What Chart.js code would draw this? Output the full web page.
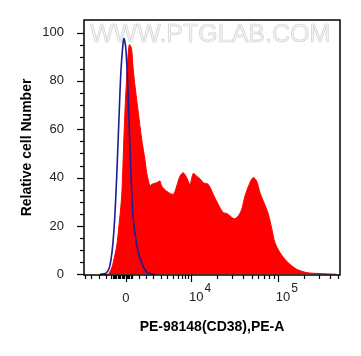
<!DOCTYPE html>
<html>
<head>
<meta charset="utf-8">
<script src="https://cdn.jsdelivr.net/npm/chart.js@4"></script>
<style>
  html, body { margin: 0; padding: 0; background: #fff; }
  #wrap { width: 361px; height: 356px; }
</style>
</head>
<body>
<div id="wrap"><canvas id="histChart" width="361" height="356"></canvas></div>
<script>
// x is in display units of the biexponential axis (0 -> 0, 10^4 -> 0.75, 10^5 -> 1.75)
const redX = [-0.300, -0.208, -0.185, -0.161, -0.146, -0.107, -0.081, -0.050, -0.035, -0.020, -0.006,
  0.008, 0.023, 0.038, 0.052, 0.066, 0.081, 0.104, 0.142, 0.181, 0.219, 0.239, 0.277, 0.296, 0.354,
  0.392, 0.412, 0.469, 0.546, 0.585, 0.623, 0.661, 0.700, 0.738, 0.776, 0.815, 0.854, 0.892, 0.949,
  1.007, 1.065, 1.122, 1.161, 1.200, 1.249, 1.295, 1.335, 1.373, 1.430, 1.468, 1.507, 1.546, 1.584,
  1.623, 1.642, 1.681, 1.719, 1.776, 1.834, 1.892, 1.969, 2.084, 2.238, 2.430];
const redY = [0, 0, 1, 3, 5, 11.7, 20, 32, 45, 60, 72,
  81, 90, 95, 94.5, 93, 86, 78, 67, 56, 47.5, 42, 36.5, 37.2, 37.9,
  38.6, 36.5, 34.4, 33.1, 36.5, 40.6, 42, 40, 37.2, 41.7, 40.6, 39.5, 37.9, 37.2,
  33, 28.9, 25.5, 25.2, 24.1, 23, 24.1, 26.9, 32.4, 37.9, 40, 38.6, 33.8, 30.3,
  26.9, 25, 19, 13.1, 9, 6.2, 4.1, 2.1, 0.7, 0.3, 0];

const blueX = [-0.300, -0.231, -0.196, -0.173, -0.150, -0.127, -0.104, -0.081, -0.058, -0.035, -0.023,
  -0.012, 0, 0.023, 0.046, 0.069, 0.084, 0.104, 0.127, 0.150, 0.173, 0.196, 0.219, 0.242, 0.277, 0.334];
const blueY = [0, 0.5, 2.3, 6, 13, 25, 43, 64, 84, 95, 97.5,
  96, 93, 76, 52, 32, 23, 17, 11.5, 8, 5.5, 3.5, 2, 0.8, 0.3, 0];

const yTicks = [0, 20, 40, 60, 80, 100];
const xTickLabels = [
  { value: 0, text: '0' },
  { value: 0.75, base: '10', exp: '4' },
  { value: 1.75, base: '10', exp: '5' }
];
// minor ticks of the transformed axis
const xMinor = [-0.473, -0.400, -0.315, -0.231,
  -0.17, -0.155, -0.14, -0.125, -0.11, -0.095, -0.08, -0.065, -0.05, -0.035, -0.02, -0.005,
  0.01, 0.025, 0.04, 0.055, 0.07,
  0.150, 0.234, 0.315, 0.400, 0.476, 0.546, 0.600, 0.642, 0.680, 0.719];
for (let k = 2; k <= 9; k++) xMinor.push(0.75 + Math.log10(k));
for (let k = 2; k <= 5; k++) xMinor.push(1.75 + Math.log10(k));

const toPts = (xs, ys) => xs.map((x, i) => ({ x: x, y: ys[i] }));

const fontFam = '"Liberation Sans", Arial, sans-serif';

const decor = {
  id: 'decor',
  beforeDatasetsDraw(chart) {
    const { ctx, chartArea } = chart;
    ctx.save();
    ctx.font = '25px ' + fontFam;
    ctx.textBaseline = 'alphabetic';
    ctx.textAlign = 'left';
    ctx.fillStyle = '#f4f4f4';
    ctx.strokeStyle = '#d2d2d2';
    ctx.lineWidth = 0.7;
    ctx.fillText('WWW.PTGLAB.COM', chartArea.left + 6, chartArea.top + 22, 248);
    ctx.strokeText('WWW.PTGLAB.COM', chartArea.left + 6, chartArea.top + 22, 248);
    ctx.restore();
  },
  afterDraw(chart) {
    const { ctx, chartArea } = chart;
    const xs = chart.scales.x, ys = chart.scales.y;
    ctx.save();
    ctx.strokeStyle = '#000';
    ctx.lineWidth = 1.5;
    ctx.strokeRect(chartArea.left, chartArea.top, chartArea.right - chartArea.left, chartArea.bottom - chartArea.top);

    // y ticks
    ctx.lineWidth = 1.2;
    for (let v = 0; v <= 100; v += 5) {
      const py = Math.round(ys.getPixelForValue(v)) + 0.5;
      const len = v % 20 === 0 ? 7 : 4;
      ctx.beginPath();
      ctx.moveTo(chartArea.left - len, py);
      ctx.lineTo(chartArea.left, py);
      ctx.stroke();
    }
    // x ticks
    const by = chartArea.bottom;
    xMinor.forEach(v => {
      const px = Math.round(xs.getPixelForValue(v)) + 0.5;
      ctx.beginPath();
      ctx.moveTo(px, by);
      ctx.lineTo(px, by + 4);
      ctx.stroke();
    });
    xTickLabels.forEach(t => {
      const px = Math.round(xs.getPixelForValue(t.value)) + 0.5;
      ctx.beginPath();
      ctx.moveTo(px, by);
      ctx.lineTo(px, by + 7);
      ctx.stroke();
    });
    // x tick labels
    ctx.fillStyle = '#222';
    ctx.textBaseline = 'middle';
    xTickLabels.forEach(t => {
      const px = xs.getPixelForValue(t.value);
      if (t.text) {
        ctx.font = '13px ' + fontFam;
        ctx.textAlign = 'center';
        ctx.fillText(t.text, px, by + 23);
      } else {
        ctx.font = '13px ' + fontFam;
        ctx.textAlign = 'left';
        const x0 = px - 2;
        ctx.fillText(t.base, x0, by + 22);
        const w = ctx.measureText(t.base).width;
        ctx.font = '12px ' + fontFam;
        ctx.fillText(t.exp, x0 + w + 1, by + 14);
      }
    });
    ctx.restore();
  }
};

const chart = new Chart(document.getElementById('histChart').getContext('2d'), {
  type: 'scatter',
  data: {
    datasets: [{
      label: 'PE-98148(CD38)',
      data: toPts(redX, redY),
      showLine: true,
      fill: 'origin',
      borderColor: '#ff0000',
      backgroundColor: '#ff0000',
      borderWidth: 1,
      pointRadius: 0,
      tension: 0.3,
      order: 2
    }, {
      label: 'Control',
      data: toPts(blueX, blueY),
      showLine: true,
      fill: false,
      borderColor: '#1c1c96',
      borderWidth: 1.6,
      pointRadius: 0,
      tension: 0.35,
      order: 1
    }]
  },
  options: {
    responsive: false,
    animation: false,
    devicePixelRatio: 1,
    layout: { padding: { top: 20, right: 21, left: 0, bottom: 0 } },
    plugins: { legend: { display: false }, tooltip: { enabled: false } },
    scales: {
      x: {
        type: 'linear',
        min: -0.484,
        max: 2.469,
        grid: { display: false },
        border: { display: false },
        ticks: { display: false },
        afterFit: s => { s.height = 81; },
        title: {
          display: true,
          text: 'PE-98148(CD38),PE-A',
          color: '#000',
          font: { family: fontFam, size: 14, weight: 'bold' },
          padding: { top: 0, bottom: 20 }
        }
      },
      y: {
        type: 'linear',
        min: -0.3,
        max: 105.2,
        grid: { display: false },
        border: { display: false },
        afterBuildTicks: s => { s.ticks = yTicks.map(v => ({ value: v })); },
        afterFit: s => { s.width = 84; },
        ticks: {
          color: '#222',
          padding: 12,
          font: { family: fontFam, size: 13 },
          callback: v => String(v)
        },
        title: {
          display: true,
          text: 'Relative cell Number',
          color: '#000',
          font: { family: fontFam, size: 14, weight: 'bold' },
          padding: { top: 19, bottom: 0 }
        }
      }
    }
  },
  plugins: [decor]
});
</script>
</body>
</html>
